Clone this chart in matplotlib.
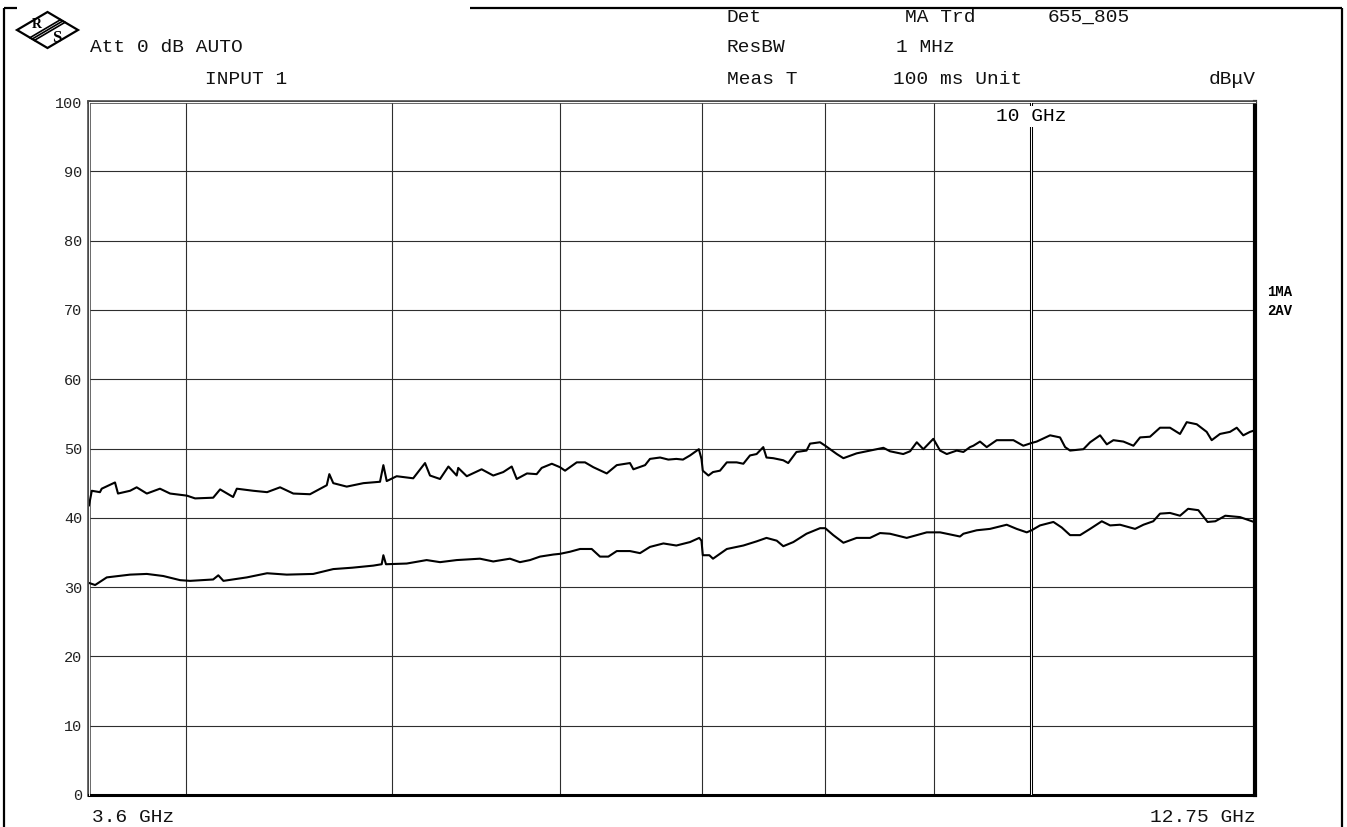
import matplotlib
matplotlib.use("Agg")
import matplotlib.pyplot as plt
from matplotlib.patches import Polygon
from matplotlib.ticker import FixedLocator, NullFormatter, NullLocator

plt.rcParams["font.family"] = ["Liberation Mono", "DejaVu Sans Mono"]

# Trace 1: max peak (MA), GHz / dBuV
top_freq = [3.600, 3.611, 3.643, 3.650, 3.703, 3.715, 3.764, 3.791, 3.833, 3.888,
            3.931, 4.003, 4.039, 4.119, 4.150, 4.209, 4.226, 4.302, 4.367, 4.429,
            4.493, 4.575, 4.659, 4.672, 4.692, 4.761, 4.848, 4.936, 4.954, 4.972,
            5.026, 5.117, 5.183, 5.211, 5.268, 5.316, 5.364, 5.373, 5.423, 5.511,
            5.581, 5.642, 5.694, 5.725, 5.789, 5.850, 5.882, 5.947, 6.000, 6.033,
            6.110, 6.165, 6.221, 6.312, 6.381, 6.473, 6.497, 6.580, 6.615, 6.688,
            6.748, 6.807, 6.856, 6.909, 6.975, 6.995, 7.005, 7.048, 7.083, 7.137,
            7.190, 7.267, 7.320, 7.373, 7.426, 7.480, 7.506, 7.562, 7.644, 7.685,
            7.754, 7.839, 7.869, 7.955, 8.000, 8.101, 8.159, 8.277, 8.398, 8.521,
            8.582, 8.706, 8.771, 8.835, 8.898, 8.995, 9.061, 9.127, 9.226, 9.293,
            9.360, 9.394, 9.462, 9.531, 9.635, 9.811, 9.917, 10.007, 10.062, 10.209,
            10.320, 10.377, 10.433, 10.585, 10.662, 10.778, 10.857, 10.935, 11.054, 11.175,
            11.256, 11.378, 11.502, 11.627, 11.754, 11.840, 11.969, 12.099, 12.165, 12.275,
            12.409, 12.500, 12.589, 12.681, 12.740, 12.750]
top_level = [41.8, 43.9, 43.7, 44.2, 45.1, 43.5, 43.9, 44.4, 43.5, 44.2,
             43.5, 43.2, 42.8, 42.9, 44.1, 43.0, 44.2, 43.9, 43.7, 44.4,
             43.5, 43.4, 44.7, 46.3, 45.0, 44.5, 45.0, 45.2, 47.6, 45.3,
             46.0, 45.7, 47.9, 46.1, 45.6, 47.4, 46.1, 47.2, 46.0, 47.0,
             46.1, 46.6, 47.4, 45.6, 46.4, 46.3, 47.2, 47.8, 47.3, 46.8,
             48.0, 48.0, 47.3, 46.4, 47.6, 47.9, 47.0, 47.6, 48.5, 48.7,
             48.4, 48.5, 48.4, 49.0, 49.9, 48.5, 46.8, 46.1, 46.6, 46.8,
             48.0, 48.0, 47.8, 49.0, 49.2, 50.2, 48.7, 48.6, 48.3, 47.9,
             49.5, 49.7, 50.7, 50.9, 50.4, 49.2, 48.6, 49.3, 49.7, 50.1,
             49.6, 49.2, 49.6, 50.9, 49.9, 51.4, 49.7, 49.2, 49.7, 49.5,
             50.2, 50.4, 51.0, 50.2, 51.2, 51.2, 50.4, 50.8, 51.0, 51.9,
             51.6, 50.2, 49.7, 49.9, 50.9, 51.9, 50.6, 51.2, 51.0, 50.4,
             51.6, 51.7, 53.0, 53.0, 52.1, 53.8, 53.5, 52.4, 51.2, 52.1,
             52.4, 53.0, 51.9, 52.4, 52.6, 50.6]

# Trace 2: average (AV)
bot_freq = [3.600, 3.624, 3.670, 3.764, 3.833, 3.902, 3.974, 4.017, 4.119, 4.142,
            4.165, 4.272, 4.367, 4.461, 4.591, 4.692, 4.790, 4.900, 4.945, 4.954,
            4.968, 5.081, 5.192, 5.268, 5.364, 5.501, 5.581, 5.683, 5.745, 5.808,
            5.871, 5.957, 6.000, 6.065, 6.132, 6.210, 6.266, 6.323, 6.381, 6.473,
            6.544, 6.615, 6.712, 6.807, 6.909, 6.978, 6.995, 7.005, 7.055, 7.083,
            7.190, 7.320, 7.426, 7.506, 7.590, 7.644, 7.728, 7.839, 7.955, 8.000,
            8.070, 8.159, 8.277, 8.398, 8.490, 8.582, 8.739, 8.835, 8.931, 9.061,
            9.160, 9.259, 9.293, 9.428, 9.565, 9.740, 9.846, 9.954, 10.007, 10.098,
            10.246, 10.339, 10.433, 10.547, 10.662, 10.798, 10.896, 11.014, 11.195, 11.297,
            11.418, 11.502, 11.627, 11.754, 11.858, 11.990, 12.111, 12.213, 12.346, 12.544,
            12.681, 12.735, 12.750]
bot_level = [30.6, 30.3, 31.4, 31.8, 31.9, 31.6, 31.0, 30.9, 31.1, 31.7,
             30.9, 31.4, 32.0, 31.8, 31.9, 32.6, 32.8, 33.1, 33.3, 34.6,
             33.3, 33.4, 33.9, 33.6, 33.9, 34.1, 33.7, 34.1, 33.6, 33.9,
             34.4, 34.7, 34.8, 35.1, 35.5, 35.5, 34.4, 34.4, 35.2, 35.2,
             34.9, 35.8, 36.3, 36.0, 36.5, 37.1, 36.7, 34.6, 34.6, 34.1,
             35.5, 36.0, 36.6, 37.1, 36.7, 35.9, 36.5, 37.7, 38.5, 38.5,
             37.5, 36.4, 37.1, 37.1, 37.8, 37.7, 37.1, 37.5, 37.9, 37.9,
             37.6, 37.3, 37.7, 38.2, 38.4, 39.0, 38.4, 37.9, 38.2, 38.9,
             39.4, 38.6, 37.5, 37.5, 38.4, 39.5, 38.9, 39.0, 38.4, 39.0,
             39.5, 40.6, 40.7, 40.3, 41.3, 41.1, 39.4, 39.5, 40.3, 40.1,
             39.6, 39.4, 39.3]

f_start, f_stop = 3.6, 12.75
grid_freq = [4, 5, 6, 7, 8, 9, 10]
level_ticks = [0, 10, 20, 30, 40, 50, 60, 70, 80, 90, 100]
level_labels = ["0", "10", "20", "30", "40", "50", "60", "70", "80", "90", "100"]
marker_freq = 10.0
marker_label = "10 GHz"
trace_names = ["1MA", "2AV"]

W, H = 1347, 827
fig = plt.figure(figsize=(W / 100, H / 100), dpi=100)

# page layer in pixel units: frame, logo, setting header
page = fig.add_axes([0, 0, 1, 1], zorder=0)
page.set_xlim(0, W)
page.set_ylim(H, 0)
page.axis("off")

ax = fig.add_axes([89 / W, 32 / H, 1166 / W, 693 / H], zorder=1)
ax.set_xscale("log")
ax.set_xlim(f_start, f_stop)
ax.set_ylim(0, 100)
ax.xaxis.set_major_locator(FixedLocator(grid_freq))
ax.xaxis.set_minor_locator(NullLocator())
ax.xaxis.set_major_formatter(NullFormatter())
ax.xaxis.set_minor_formatter(NullFormatter())
ax.set_yticks(level_ticks)
ax.set_yticklabels(level_labels)
ax.tick_params(length=0, labelsize=11, pad=5, labelcolor="#222222")
ax.grid(True, color="#2e2e2e", lw=0.8)
ax.set_axisbelow(True)

# double line on left/top, heavy line on right/bottom
for side in ["left", "top"]:
    ax.spines[side].set_linewidth(2.6)
    ax.spines[side].set_color("#4a4a4a")
ax.spines["right"].set_linewidth(3.0)
ax.spines["bottom"].set_linewidth(2.2)
ax.plot([f_start, f_start], [0, 100], color="white", lw=0.7, clip_on=False, zorder=3)
ax.plot([f_start, f_stop], [100, 100], color="white", lw=0.7, clip_on=False, zorder=3)

# frequency line marker
ax.axvline(marker_freq, color="black", lw=2.2, zorder=2.6)
ax.axvline(marker_freq, color="white", lw=0.7, zorder=2.7)
ax.text(marker_freq, 97.9, marker_label, ha="center", va="center", fontsize=14,
        bbox=dict(fc="white", ec="none", pad=1.5), zorder=4)

ax.plot(top_freq, top_level, color="black", lw=1.5, zorder=5)
ax.plot(bot_freq, bot_level, color="black", lw=1.5, zorder=5)

# outer frame
frame_kw = dict(color="black", lw=1.6, solid_capstyle="butt")
page.plot([3.5, 3.5], [8, H], **frame_kw)
page.plot([1342, 1342], [8, H], **frame_kw)
page.plot([3.5, 17], [8, 8], **frame_kw)
page.plot([470, 1342], [8, 8], **frame_kw)

# R&S logo
page.add_patch(Polygon([(17, 30), (47.5, 12), (78, 30), (47.5, 48)], closed=True,
                       fc="white", ec="black", lw=1.6))
for t in [-2.6, 0, 2.6]:
    dx, dy = 0.861 * t, 0.508 * t
    page.plot([62.75 + dx, 32.25 + dx], [21 + dy, 39 + dy], color="black", lw=1.2)
page.text(37, 25, "R", fontsize=10, fontweight="bold", family="Liberation Serif",
          ha="center", va="center")
page.text(57, 38, "S", fontsize=12, fontweight="bold", family="Liberation Serif",
          ha="center", va="center")

hdr = dict(fontsize=14, va="center", color="#111111")
page.text(90, 48, "Att 0 dB AUTO", **hdr)
page.text(205, 80, "INPUT 1", **hdr)
page.text(727, 17, "Det", **hdr)
page.text(905, 17, "MA Trd", **hdr)
page.text(1048, 17, "655_805", **hdr)
page.text(727, 47, "ResBW", **hdr)
page.text(896, 47, "1 MHz", **hdr)
page.text(727, 80, "Meas T", **hdr)
page.text(893, 80, "100 ms Unit", **hdr)
page.text(1256, 80, "dBμV", ha="right", **hdr)

page.text(92, 818, "3.6 GHz", **hdr)
page.text(1256, 818, "12.75 GHz", ha="right", **hdr)

page.text(1267, 291.5, trace_names[0], fontsize=10, fontweight="bold", va="center")
page.text(1267, 311, trace_names[1], fontsize=10, fontweight="bold", va="center")

fig.savefig("out.png", dpi=100)
